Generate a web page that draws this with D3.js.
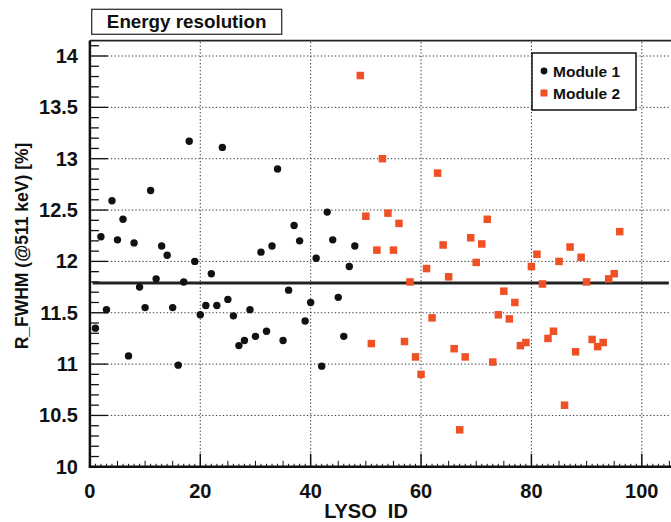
<!DOCTYPE html>
<html>
<head>
<meta charset="utf-8">
<script src="https://cdn.jsdelivr.net/npm/d3@7"></script>
<style>
  body { margin: 0; background: white; }
  svg text { font-family: "Liberation Sans", Arial, sans-serif; font-weight: bold; fill: #111; }
</style>
</head>
<body>
<div id="chart"></div>
<script>

// LYSO crystal ids and energy resolution per module
var module1Ids = [1, 2, 3, 4, 5, 6, 7, 8, 9, 10, 11, 12, 13, 14, 15, 16,
  17, 18, 19, 20, 21, 22, 23, 24, 25, 26, 27, 28, 29, 30, 31, 32,
  33, 34, 35, 36, 37, 38, 39, 40, 41, 42, 43, 44, 45, 46, 47, 48];
var module1Values = [11.35, 12.24, 11.53, 12.59, 12.21, 12.41, 11.08, 12.18, 11.75, 11.55, 12.69, 11.83, 12.15, 12.06, 11.55, 10.99,
  11.80, 13.17, 12.00, 11.48, 11.57, 11.88, 11.57, 13.11, 11.63, 11.47, 11.18, 11.23, 11.53, 11.27, 12.09, 11.32,
  12.15, 12.90, 11.23, 11.72, 12.35, 12.20, 11.42, 11.60, 12.03, 10.98, 12.48, 12.21, 11.65, 11.27, 11.95, 12.15];

var module2Ids = [49, 50, 51, 52, 53, 54, 55, 56, 57, 58, 59, 60, 61, 62, 63, 64,
  65, 66, 67, 68, 69, 70, 71, 72, 73, 74, 75, 76, 77, 78, 79, 80,
  81, 82, 83, 84, 85, 86, 87, 88, 89, 90, 91, 92, 93, 94, 95, 96];
var module2Values = [13.81, 12.44, 11.20, 12.11, 13.00, 12.47, 12.11, 12.37, 11.22, 11.80, 11.07, 10.90, 11.93, 11.45, 12.86, 12.16,
  11.85, 11.15, 10.36, 11.07, 12.23, 11.99, 12.17, 12.41, 11.02, 11.48, 11.71, 11.44, 11.60, 11.18, 11.21, 11.95,
  12.07, 11.78, 11.25, 11.32, 12.00, 10.60, 12.14, 11.12, 12.04, 11.80, 11.24, 11.17, 11.21, 11.83, 11.88, 12.29];

// mean resolution line
var meanValue = 11.79;
var meanRange = [0.5, 104.9];

var xTicks = [0, 20, 40, 60, 80, 100];
var yTicks = [10, 10.5, 11, 11.5, 12, 12.5, 13, 13.5, 14];

var legendLabels = ["Module 1", "Module 2"];

var width = 671;
var height = 522;
var margin = {top: 40.6, left: 89.9, bottom: 55.2};
var red = "#ef5024";

var svg = d3.select("#chart").append("svg")
  .attr("width", width)
  .attr("height", height);

var x = d3.scaleLinear()
  .domain([0, 106])
  .range([margin.left, margin.left + 106 * 5.519]);

var y = d3.scaleLinear()
  .domain([10, 14.15])
  .range([height - margin.bottom, margin.top]);

var x0 = x(0), yBot = y(10), yTop = y(14.15);

// dotted grid
svg.append("g")
  .selectAll("line")
  .data(xTicks.filter(d => d > 0))
  .enter()
  .append("line")
  .attr("x1", d => x(d)).attr("x2", d => x(d))
  .attr("y1", yBot).attr("y2", yTop)
  .attr("stroke", "#333").attr("stroke-width", 1)
  .attr("stroke-dasharray", "1.3,2.2");

svg.append("g")
  .selectAll("line")
  .data(yTicks.filter(d => d > 10))
  .enter()
  .append("line")
  .attr("x1", x0).attr("x2", width)
  .attr("y1", d => y(d)).attr("y2", d => y(d))
  .attr("stroke", "#333").attr("stroke-width", 1)
  .attr("stroke-dasharray", "1.3,2.2");

// minor ticks (ROOT style, inside the frame)
var yMinor = d3.range(100, 142).map(d => d / 10);
svg.append("g")
  .selectAll("line")
  .data(yMinor)
  .enter()
  .append("line")
  .attr("x1", x0)
  .attr("x2", d => x0 + (Math.abs(d * 2 - Math.round(d * 2)) < 1e-6 ? 18 : 9))
  .attr("y1", d => y(d)).attr("y2", d => y(d))
  .attr("stroke", "#111").attr("stroke-width", 1.3);

var xMinor = d3.range(0, 106);
svg.append("g")
  .selectAll("line")
  .data(xMinor)
  .enter()
  .append("line")
  .attr("x1", d => x(d)).attr("x2", d => x(d))
  .attr("y1", yBot)
  .attr("y2", d => yBot - (d % 20 == 0 ? 13 : (d % 5 == 0 ? 6 : 3)))
  .attr("stroke", "#111").attr("stroke-width", d => d % 20 == 0 ? 1.5 : 1);

// frame
svg.append("line")
  .attr("x1", x0).attr("x2", width)
  .attr("y1", yTop).attr("y2", yTop)
  .attr("stroke", "#222").attr("stroke-width", 1.6);
svg.append("line")
  .attr("x1", x0).attr("x2", x0)
  .attr("y1", yTop).attr("y2", yBot + 1)
  .attr("stroke", "#111").attr("stroke-width", 2.5);
svg.append("line")
  .attr("x1", x0 - 1).attr("x2", width)
  .attr("y1", yBot).attr("y2", yBot)
  .attr("stroke", "#111").attr("stroke-width", 2.5);

// tick labels
svg.append("g")
  .selectAll("text")
  .data(yTicks)
  .enter()
  .append("text")
  .attr("x", 78)
  .attr("y", d => y(d) + 7)
  .attr("text-anchor", "end")
  .attr("font-size", 20)
  .text(d => d);

svg.append("g")
  .selectAll("text")
  .data(xTicks)
  .enter()
  .append("text")
  .attr("x", d => x(d))
  .attr("y", 498)
  .attr("text-anchor", "middle")
  .attr("font-size", 20)
  .text(d => d);

// axis titles
svg.append("text")
  .attr("x", 366)
  .attr("y", 518)
  .attr("text-anchor", "middle")
  .attr("font-size", 20)
  .attr("xml:space", "preserve")
  .text("LYSO  ID");

svg.append("text")
  .attr("transform", "translate(28,246) rotate(-90)")
  .attr("text-anchor", "middle")
  .attr("font-size", 17.5)
  .text("R_FWHM (@511 keV) [%]");

// mean line
svg.append("line")
  .attr("x1", x(meanRange[0])).attr("x2", x(meanRange[1]))
  .attr("y1", y(meanValue)).attr("y2", y(meanValue))
  .attr("stroke", "#222").attr("stroke-width", 3);

// module 1 points
svg.append("g")
  .selectAll("circle")
  .data(module1Ids)
  .enter()
  .append("circle")
  .attr("cx", d => x(d))
  .attr("cy", (d, i) => y(module1Values[i]))
  .attr("r", 3.7)
  .attr("fill", "#111");

// module 2 points
var sq = 7.5;
svg.append("g")
  .selectAll("rect")
  .data(module2Ids)
  .enter()
  .append("rect")
  .attr("x", d => x(d) - sq / 2)
  .attr("y", (d, i) => y(module2Values[i]) - sq / 2)
  .attr("width", sq).attr("height", sq)
  .attr("fill", red);

// title box
svg.append("rect")
  .attr("x", 91.7).attr("y", 9.3)
  .attr("width", 190).attr("height", 25)
  .attr("fill", "white")
  .attr("stroke", "#333").attr("stroke-width", 1.3);
svg.append("text")
  .attr("x", 186.7).attr("y", 27.5)
  .attr("text-anchor", "middle")
  .attr("font-size", 18.8)
  .text("Energy resolution");

// legend
var legend = svg.append("g").attr("transform", "translate(532,53)");
legend.append("rect")
  .attr("width", 104).attr("height", 57)
  .attr("fill", "white")
  .attr("stroke", "#111").attr("stroke-width", 1.5);
legend.append("circle")
  .attr("cx", 12).attr("cy", 18).attr("r", 3.4).attr("fill", "#111");
legend.append("rect")
  .attr("x", 12 - 3.5).attr("y", 40 - 3.5)
  .attr("width", 7).attr("height", 7).attr("fill", red);
legend.selectAll("text.lbl")
  .data(legendLabels)
  .enter()
  .append("text")
  .attr("class", "lbl")
  .attr("x", 21)
  .attr("y", (d, i) => 23.5 + i * 22.5)
  .attr("font-size", 15.5)
  .text(d => d);

</script>
</body>
</html>
